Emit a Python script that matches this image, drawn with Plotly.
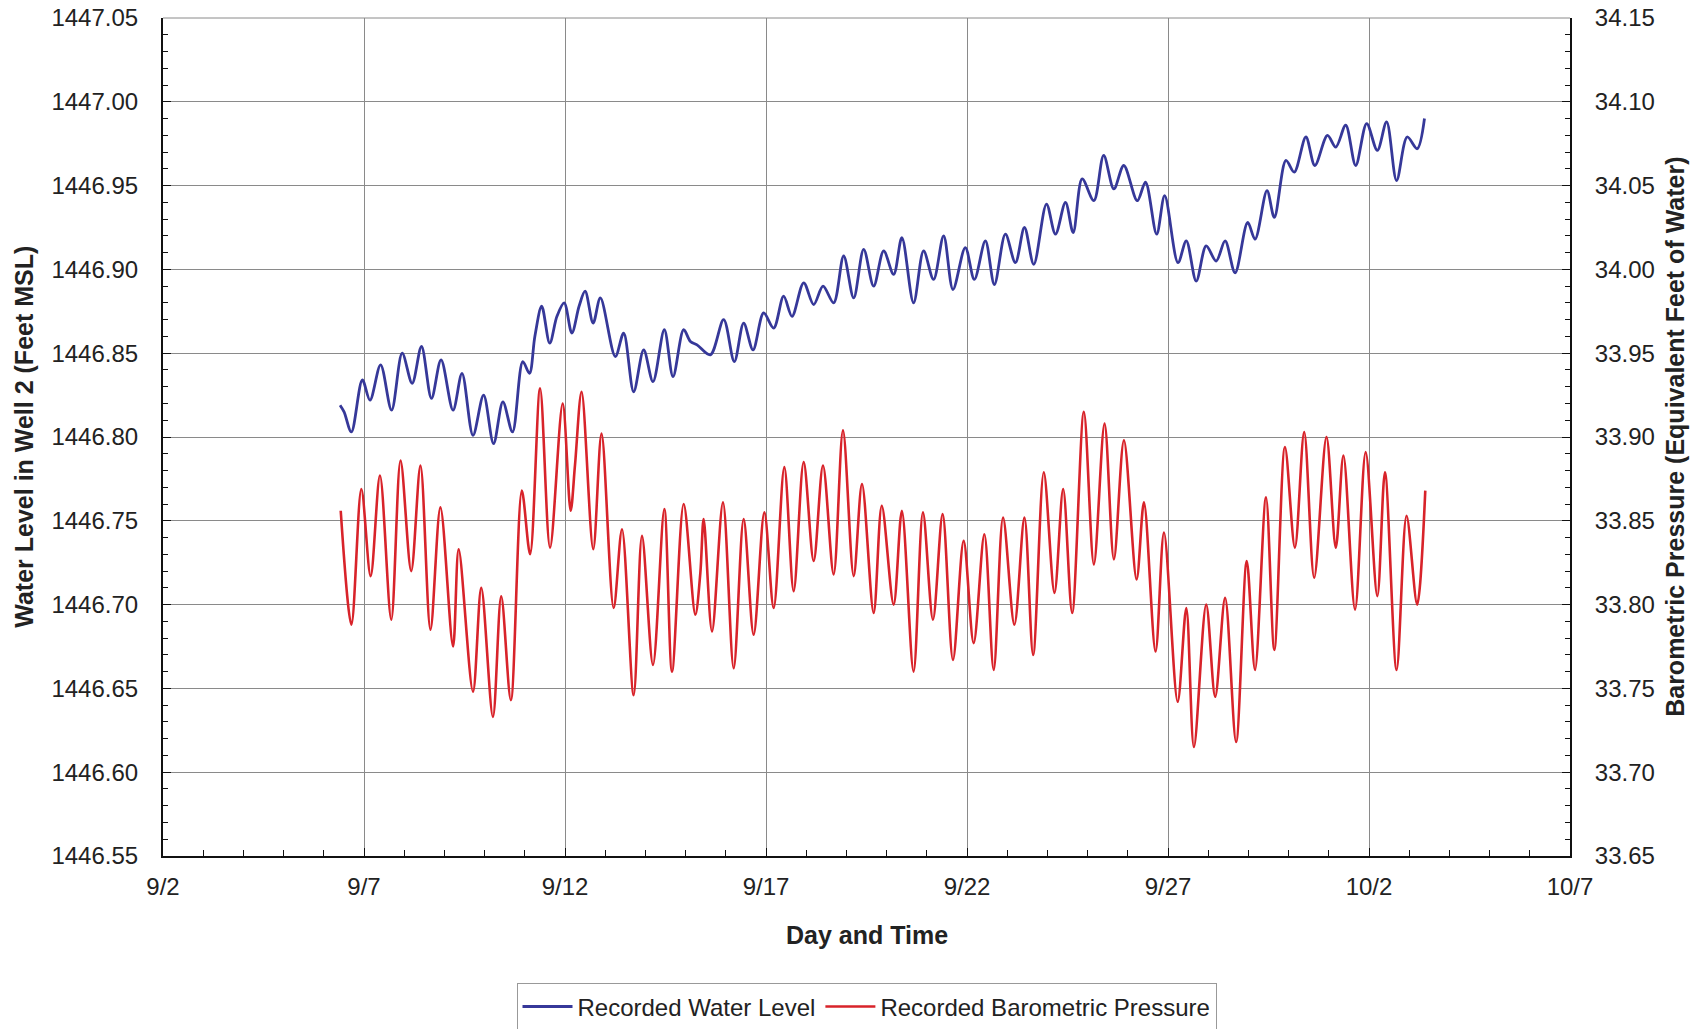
import pandas as pd
import plotly.graph_objects as go

# ---- data (time in days after 9/2 00:00) ----
water_days = [4.405, 4.504, 4.686, 4.959, 5.149, 5.413, 5.686, 5.950, 6.198, 6.430,
              6.678, 6.917, 7.215, 7.438, 7.711, 7.975, 8.223, 8.455, 8.694, 8.950,
              9.116, 9.25, 9.42, 9.62, 9.80, 9.98, 10.17, 10.35, 10.50, 10.70,
              10.88, 11.252, 11.459, 11.708, 11.957, 12.189, 12.471, 12.687, 12.952, 13.12,
              13.284, 13.615, 13.947, 14.212, 14.444, 14.677, 14.942, 15.191, 15.439, 15.647,
              15.937, 16.186, 16.418, 16.683, 16.932, 17.181, 17.430, 17.678, 17.927, 18.176,
              18.380, 18.671, 18.920, 19.169, 19.419, 19.651, 19.958, 20.183, 20.457, 20.681,
              20.955, 21.204, 21.429, 21.661, 21.977, 22.201, 22.450, 22.641, 22.865, 23.156,
              23.40, 23.654, 23.90, 24.236, 24.44, 24.718, 24.917, 25.248, 25.455, 25.702,
              25.950, 26.198, 26.421, 26.669, 26.983, 27.165, 27.463, 27.645, 27.934, 28.140,
              28.430, 28.653, 28.967, 29.174, 29.421, 29.669, 29.942, 30.207, 30.438, 30.686,
              30.950, 31.198, 31.380]
water_level = [1446.819, 1446.815, 1446.803, 1446.834, 1446.822, 1446.843, 1446.816, 1446.850, 1446.832, 1446.854,
               1446.823, 1446.846, 1446.816, 1446.838, 1446.801, 1446.825, 1446.796, 1446.821, 1446.803, 1446.845,
               1446.838, 1446.860, 1446.878, 1446.856, 1446.872, 1446.880, 1446.862, 1446.878, 1446.887, 1446.868,
               1446.883, 1446.848, 1446.862, 1446.827, 1446.852, 1446.833, 1446.864, 1446.836, 1446.864, 1446.857,
               1446.855, 1446.849, 1446.870, 1446.845, 1446.868, 1446.852, 1446.874, 1446.865, 1446.884, 1446.872,
               1446.892, 1446.879, 1446.890, 1446.880, 1446.908, 1446.883, 1446.912, 1446.890, 1446.911, 1446.897,
               1446.919, 1446.880, 1446.911, 1446.894, 1446.920, 1446.888, 1446.913, 1446.894, 1446.917, 1446.891,
               1446.921, 1446.904, 1446.925, 1446.903, 1446.939, 1446.921, 1446.940, 1446.922, 1446.954, 1446.941,
               1446.968, 1446.948, 1446.962, 1446.941, 1446.952, 1446.921, 1446.944, 1446.904, 1446.917, 1446.893,
               1446.914, 1446.905, 1446.917, 1446.898, 1446.928, 1446.918, 1446.947, 1446.931, 1446.965, 1446.958,
               1446.979, 1446.962, 1446.980, 1446.973, 1446.986, 1446.962, 1446.987, 1446.971, 1446.988, 1446.953,
               1446.979, 1446.972, 1446.990]

baro_days = [4.421, 4.686, 4.934, 5.165, 5.397, 5.678, 5.909, 6.174, 6.405, 6.653,
             6.901, 7.215, 7.355, 7.711, 7.917, 8.207, 8.413, 8.653, 8.926, 9.132,
             9.380, 9.628, 9.942, 10.140, 10.248, 10.413, 10.702, 10.909, 11.210, 11.418,
             11.708, 11.915, 12.189, 12.471, 12.662, 12.952, 13.242, 13.367, 13.449, 13.657,
             13.930, 14.196, 14.444, 14.693, 14.959, 15.191, 15.456, 15.688, 15.937, 16.186,
             16.418, 16.683, 16.915, 17.181, 17.388, 17.678, 17.880, 18.175, 18.380, 18.671,
             18.904, 19.153, 19.394, 19.651, 19.917, 20.166, 20.432, 20.664, 20.897, 21.179,
             21.429, 21.645, 21.910, 22.176, 22.392, 22.616, 22.907, 23.156, 23.422, 23.654,
             23.904, 24.219, 24.402, 24.690, 24.900, 25.240, 25.455, 25.645, 25.950, 26.174,
             26.421, 26.694, 26.959, 27.165, 27.438, 27.645, 27.909, 28.157, 28.388, 28.636,
             28.942, 29.174, 29.364, 29.653, 29.917, 30.207, 30.397, 30.686, 30.934, 31.198,
             31.400]
baro_pressure = [33.856, 33.788, 33.869, 33.817, 33.877, 33.791, 33.886, 33.820, 33.883, 33.785,
                 33.858, 33.775, 33.833, 33.748, 33.810, 33.733, 33.805, 33.743, 33.868, 33.830,
                 33.929, 33.834, 33.920, 33.856, 33.883, 33.927, 33.833, 33.902, 33.798, 33.845,
                 33.746, 33.841, 33.764, 33.857, 33.760, 33.860, 33.794, 33.819, 33.851, 33.784,
                 33.861, 33.762, 33.851, 33.782, 33.855, 33.798, 33.882, 33.808, 33.885, 33.826,
                 33.883, 33.818, 33.904, 33.817, 33.872, 33.795, 33.859, 33.800, 33.856, 33.760,
                 33.855, 33.791, 33.854, 33.767, 33.838, 33.777, 33.842, 33.761, 33.852, 33.788,
                 33.852, 33.770, 33.879, 33.807, 33.869, 33.795, 33.915, 33.824, 33.908, 33.827,
                 33.898, 33.815, 33.861, 33.772, 33.843, 33.742, 33.798, 33.715, 33.800, 33.745,
                 33.804, 33.718, 33.826, 33.761, 33.864, 33.773, 33.894, 33.834, 33.903, 33.816,
                 33.900, 33.834, 33.889, 33.797, 33.891, 33.805, 33.879, 33.761, 33.853, 33.800,
                 33.868]

series_names = ["Recorded Water Level", "Recorded Barometric Pressure"]
x_title = "Day and Time"
y_left_title = "Water Level in Well 2 (Feet MSL)"
y_right_title = "Barometric Pressure (Equivalent Feet of Water)"

base = pd.Timestamp("2008-09-02")
x_start = base
x_end = base + pd.Timedelta(days=35)
water_x = base + pd.to_timedelta(water_days, unit="D")
baro_x = base + pd.to_timedelta(baro_days, unit="D")

FONT = "Liberation Sans, Arial, Helvetica, sans-serif"
BLUE = "#363899"
RED = "#d8232a"

fig = go.Figure()
fig.add_trace(go.Scatter(x=water_x, y=water_level, mode="lines", name=series_names[0],
                         line=dict(color=BLUE, width=2.8, shape="spline", smoothing=0.9)))
fig.add_trace(go.Scatter(x=baro_x, y=baro_pressure, mode="lines", name=series_names[1],
                         yaxis="y2",
                         line=dict(color=RED, width=2.6, shape="spline", smoothing=0.9)))

DAY = 86400000
fig.update_layout(
    width=1700, height=1029,
    margin=dict(l=163, r=130, t=18, b=173, autoexpand=False),
    paper_bgcolor="white", plot_bgcolor="white",
    font=dict(family=FONT, size=24, color="#222"),
    showlegend=True,
    legend=dict(orientation="h", x=0.5, xanchor="center", y=-0.152, yanchor="top",
                bordercolor="#999", borderwidth=1, font=dict(size=24, color="#222"),
                itemwidth=50, tracegroupgap=0),
    xaxis=dict(type="date", range=[x_start, x_end], tick0=x_start, dtick=5 * DAY,
               tickformat="%-m/%-d", ticks="inside", ticklen=8, tickcolor="#111",
               tickfont=dict(size=24), ticklabelstandoff=8, automargin=False,
               ticklabeloverflow="allow",
               showgrid=True, gridcolor="#8a8a8a", gridwidth=1,
               showline=True, linecolor="#111", linewidth=2, zeroline=False,
               minor=dict(dtick=DAY, tick0=x_start, ticks="inside", ticklen=6,
                          tickcolor="#111", showgrid=False)),
    yaxis=dict(range=[1446.55, 1447.05], tick0=1446.55, dtick=0.05, tickformat=".2f",
               ticks="inside", ticklen=8, tickcolor="#111", tickfont=dict(size=24),
               ticklabelstandoff=18, automargin=False, ticklabeloverflow="allow",
               showgrid=True, gridcolor="#8a8a8a", gridwidth=1,
               showline=True, linecolor="#111", linewidth=2, zeroline=False,
               minor=dict(dtick=0.01, tick0=1446.55, ticks="inside", ticklen=5,
                          tickcolor="#111", showgrid=False)),
    yaxis2=dict(overlaying="y", side="right", range=[33.65, 34.15], tick0=33.65, dtick=0.05,
                tickformat=".2f", ticks="inside", ticklen=8, tickcolor="#111",
                tickfont=dict(size=24), ticklabelstandoff=18, automargin=False,
                ticklabeloverflow="allow",
                showgrid=False, showline=True, linecolor="#111", linewidth=2, zeroline=False,
                minor=dict(dtick=0.01, tick0=33.65, ticks="inside", ticklen=5,
                           tickcolor="#111", showgrid=False)),
    annotations=[
        dict(text=y_left_title, xref="paper", yref="paper", x=-0.099, y=0.5,
             xanchor="center", yanchor="middle", textangle=-90, showarrow=False,
             font=dict(size=25, family=FONT, color="#222", weight="bold")),
        dict(text=y_right_title, xref="paper", yref="paper", x=1.0745, y=0.5,
             xanchor="center", yanchor="middle", textangle=-90, showarrow=False,
             font=dict(size=25, family=FONT, color="#222", weight="bold")),
        dict(text=x_title, xref="paper", yref="paper", x=0.5, y=-0.094,
             xanchor="center", yanchor="middle", showarrow=False,
             font=dict(size=25, family=FONT, color="#222", weight="bold")),
    ],
    shapes=[dict(type="line", xref="paper", yref="paper", x0=0, x1=1, y0=1, y1=1,
                 line=dict(color="#8a8a8a", width=1))],
)

# remove the default 8px page margin so the figure fills the window exactly
fig.write_html("out.html", config={"displayModeBar": False},
               post_script="document.body.style.margin='0';")
